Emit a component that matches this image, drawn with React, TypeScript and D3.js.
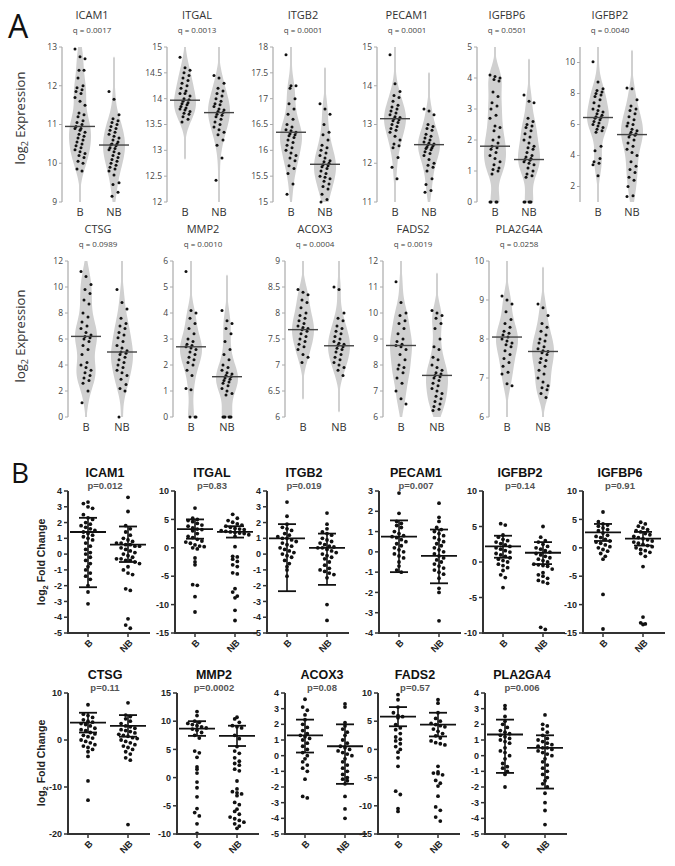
import React from 'react'
import * as d3 from 'd3'

// ---------- Panel A: log2 expression (violins) ----------
const aGenes = ['ICAM1', 'ITGAL', 'ITGB2', 'PECAM1', 'IGFBP6', 'IGFBP2', 'CTSG', 'MMP2', 'ACOX3', 'FADS2', 'PLA2G4A']
const aQ = ['q = 0.0017', 'q = 0.0013', 'q = 0.0001', 'q = 0.0001', 'q = 0.0501', 'q = 0.0040',
  'q = 0.0989', 'q = 0.0010', 'q = 0.0004', 'q = 0.0019', 'q = 0.0258']
const aDomains = [[9, 13], [12, 15], [15, 18], [11, 15], [0, 5], [1, 11], [0, 12], [0, 6], [6, 9], [6, 12], [6, 10]]
const aTicks = [
  [9, 10, 11, 12, 13], [12, 12.5, 13, 13.5, 14, 14.5, 15], [15, 15.5, 16, 16.5, 17, 17.5, 18],
  [11, 12, 13, 14, 15], [0, 1, 2, 3, 4, 5], [2, 4, 6, 8, 10],
  [0, 2, 4, 6, 8, 10, 12], [0, 1, 2, 3, 4, 5, 6], [6, 6.5, 7, 7.5, 8, 8.5, 9], [6, 7, 8, 9, 10, 11, 12], [6, 7, 8, 9, 10],
]
const aMedB = [10.95, 13.97, 16.35, 13.15, 1.8, 6.45, 6.2, 2.7, 7.68, 8.75, 8.05]
const aMedNB = [10.47, 13.73, 15.73, 12.48, 1.37, 5.35, 5.0, 1.55, 7.37, 7.6, 7.68]

const aValsB = [
  [12.95, 12.75, 12.7, 12.4, 12.4, 12.2, 12.0, 11.95, 11.9, 11.85, 11.8, 11.7, 11.6, 11.5, 11.3, 11.25, 11.2, 11.1, 11.05, 11.0, 10.95, 10.9, 10.9, 10.85, 10.8, 10.75, 10.7, 10.65, 10.6, 10.55, 10.5, 10.45, 10.4, 10.35, 10.3, 10.25, 10.2, 10.15, 10.05, 10.0, 9.85, 9.8],
  [14.8, 14.6, 14.55, 14.5, 14.45, 14.4, 14.35, 14.3, 14.25, 14.2, 14.15, 14.1, 14.1, 14.05, 14.0, 13.98, 13.95, 13.92, 13.9, 13.88, 13.85, 13.82, 13.8, 13.78, 13.75, 13.72, 13.7, 13.65, 13.6, 13.55],
  [17.85, 17.25, 17.25, 17.2, 17.0, 16.9, 16.8, 16.7, 16.6, 16.5, 16.45, 16.4, 16.38, 16.35, 16.32, 16.3, 16.28, 16.25, 16.2, 16.15, 16.1, 16.05, 16.0, 15.95, 15.9, 15.85, 15.8, 15.7, 15.65, 15.55, 15.35, 15.15],
  [14.8, 14.05, 13.85, 13.75, 13.7, 13.6, 13.5, 13.45, 13.4, 13.35, 13.3, 13.25, 13.2, 13.18, 13.15, 13.12, 13.1, 13.05, 13.0, 12.95, 12.9, 12.85, 12.8, 12.7, 12.6, 12.5, 12.45, 12.4, 12.15, 11.9, 11.6],
  [4.1, 4.05, 4.0, 3.95, 3.9, 3.55, 3.4, 3.2, 3.1, 3.0, 2.8, 2.7, 2.45, 2.4, 2.3, 2.1, 2.0, 1.9, 1.8, 1.75, 1.7, 1.6, 1.5, 1.4, 1.3, 1.2, 1.1, 1.05, 1.0, 0.9, 0, 0, 0, 0],
  [10.05, 8.75, 8.3, 8.2, 8.1, 8.0, 7.9, 7.8, 7.6, 7.4, 7.2, 7.0, 6.9, 6.8, 6.7, 6.6, 6.5, 6.45, 6.4, 6.3, 6.2, 6.1, 6.0, 5.9, 5.8, 5.7, 5.6, 5.5, 4.6, 4.3, 3.8, 3.6, 3.5, 3.4, 2.7],
  [11.2, 10.8, 10.2, 9.8, 9.5, 9.0, 8.7, 8.0, 7.7, 7.3, 7.0, 6.8, 6.5, 6.3, 6.2, 6.1, 6.0, 5.8, 5.5, 5.2, 4.8, 4.2, 4.0, 3.8, 3.6, 3.4, 3.2, 3.0, 2.8, 2.6, 2.0, 1.1],
  [5.6, 4.1, 4.0, 3.8, 3.6, 3.4, 3.2, 3.0, 2.9, 2.8, 2.75, 2.7, 2.65, 2.6, 2.5, 2.4, 2.3, 2.2, 2.1, 2.0, 1.8, 1.6, 1.1, 1.05, 0, 0, 0],
  [8.45, 8.4, 8.35, 8.25, 8.2, 8.1, 8.0, 7.95, 7.9, 7.85, 7.8, 7.75, 7.72, 7.7, 7.68, 7.65, 7.6, 7.55, 7.5, 7.45, 7.4, 7.35, 7.3, 7.2, 7.15, 7.05],
  [11.2, 10.4, 10.0, 9.9, 9.7, 9.6, 9.4, 9.2, 9.0, 8.9, 8.8, 8.75, 8.7, 8.6, 8.4, 8.2, 8.0, 7.9, 7.85, 7.7, 7.5, 7.3, 7.0, 6.7, 6.5],
  [9.1, 9.0, 8.9, 8.7, 8.5, 8.4, 8.3, 8.2, 8.15, 8.1, 8.05, 8.0, 7.95, 7.9, 7.85, 7.8, 7.7, 7.6, 7.5, 7.4, 7.3, 7.15, 7.1, 6.85, 6.8],
]
const aValsNB = [
  [11.85, 11.65, 11.25, 11.15, 11.1, 11.05, 11.0, 10.95, 10.9, 10.85, 10.8, 10.75, 10.7, 10.65, 10.6, 10.55, 10.5, 10.5, 10.48, 10.45, 10.4, 10.38, 10.35, 10.3, 10.25, 10.2, 10.15, 10.1, 10.05, 10.0, 9.95, 9.9, 9.85, 9.8, 9.7, 9.5, 9.45, 9.25, 9.15],
  [14.45, 14.4, 14.3, 14.2, 14.15, 14.1, 14.05, 14.0, 13.95, 13.9, 13.88, 13.85, 13.8, 13.78, 13.75, 13.73, 13.7, 13.68, 13.65, 13.6, 13.55, 13.5, 13.45, 13.4, 13.35, 13.3, 13.2, 13.1, 12.85, 12.42],
  [16.9, 16.8, 16.7, 16.5, 16.35, 16.3, 16.2, 16.1, 16.05, 16.0, 15.95, 15.9, 15.85, 15.8, 15.78, 15.75, 15.72, 15.7, 15.68, 15.65, 15.6, 15.55, 15.5, 15.48, 15.45, 15.4, 15.35, 15.3, 15.25, 15.15, 15.05, 15.0],
  [13.4, 13.35, 13.25, 13.0, 12.95, 12.9, 12.85, 12.75, 12.7, 12.65, 12.6, 12.55, 12.52, 12.5, 12.48, 12.45, 12.42, 12.4, 12.38, 12.35, 12.3, 12.25, 12.2, 12.1, 12.0, 11.95, 11.9, 11.8, 11.6, 11.45, 11.3, 11.25],
  [3.45, 3.25, 3.2, 2.7, 2.6, 2.5, 2.45, 2.4, 2.3, 2.2, 2.1, 2.0, 1.9, 1.8, 1.75, 1.7, 1.6, 1.5, 1.45, 1.4, 1.37, 1.35, 1.3, 1.25, 1.2, 1.1, 1.0, 0.9, 0.85, 0.8, 0, 0, 0, 0, 0],
  [8.35, 8.3, 7.6, 7.2, 7.0, 6.9, 6.7, 6.5, 6.3, 6.1, 6.0, 5.9, 5.7, 5.6, 5.5, 5.4, 5.35, 5.3, 5.2, 5.0, 4.8, 4.6, 4.4, 4.2, 4.0, 3.6, 3.3, 3.1, 2.9, 2.6, 2.4, 2.0, 1.4, 1.35],
  [9.8, 8.8, 8.3, 7.6, 7.2, 7.0, 6.8, 6.5, 6.3, 6.1, 5.8, 5.5, 5.3, 5.1, 5.0, 4.9, 4.8, 4.6, 4.4, 4.2, 4.0, 3.8, 3.6, 3.4, 3.2, 2.9, 2.5, 2.2, 2.0, 0],
  [4.1, 3.7, 3.6, 3.4, 3.2, 2.9, 2.6, 2.4, 2.2, 2.0, 1.9, 1.8, 1.7, 1.65, 1.6, 1.55, 1.5, 1.45, 1.4, 1.35, 1.3, 1.2, 1.1, 1.0, 0.9, 0.85, 0, 0, 0, 0, 0, 0],
  [8.5, 8.45, 8.0, 7.9, 7.85, 7.75, 7.7, 7.65, 7.6, 7.55, 7.5, 7.45, 7.42, 7.4, 7.38, 7.35, 7.32, 7.3, 7.25, 7.2, 7.15, 7.1, 7.05, 7.0, 6.95, 6.9, 6.8],
  [10.1, 10.0, 9.9, 9.8, 9.6, 9.4, 9.0, 8.7, 8.6, 8.3, 8.2, 8.0, 7.9, 7.8, 7.7, 7.65, 7.6, 7.55, 7.5, 7.4, 7.3, 7.2, 7.1, 7.0, 6.9, 6.8, 6.7, 6.6, 6.5, 6.4, 6.3, 6.25],
  [8.9, 8.8, 8.6, 8.4, 8.3, 8.2, 8.1, 8.0, 7.95, 7.9, 7.8, 7.75, 7.7, 7.68, 7.65, 7.6, 7.5, 7.45, 7.4, 7.3, 7.2, 7.1, 7.0, 6.9, 6.8, 6.75, 6.7, 6.6, 6.5],
]

// ---------- Panel B: log2 fold change (scatter, bar + whiskers) ----------
const bGenes = ['ICAM1', 'ITGAL', 'ITGB2', 'PECAM1', 'IGFBP2', 'IGFBP6', 'CTSG', 'MMP2', 'ACOX3', 'FADS2', 'PLA2GA4']
const bP = ['p=0.012', 'p=0.83', 'p=0.019', 'p=0.007', 'p=0.14', 'p=0.91', 'p=0.11', 'p=0.0002', 'p=0.08', 'p=0.57', 'p=0.006']
const bDomains = [[-5, 4], [-15, 10], [-5, 4], [-4, 3], [-10, 10], [-15, 10], [-20, 10], [-10, 15], [-5, 4], [-15, 10], [-5, 4]]
const bTicks = [
  [4, 3, 2, 1, 0, -1, -2, -3, -4, -5], [10, 5, 0, -5, -10, -15], [4, 3, 2, 1, 0, -1, -2, -3, -4, -5],
  [3, 2, 1, 0, -1, -2, -3, -4], [10, 5, 0, -5, -10], [10, 5, 0, -5, -10, -15],
  [10, 0, -10, -20], [15, 10, 5, 0, -5, -10], [4, 3, 2, 1, 0, -1, -2, -3, -4, -5], [10, 5, 0, -5, -10, -15], [4, 3, 2, 1, 0, -1, -2, -3, -4, -5],
]
const bCenterB = [1.4, 3.3, 1.0, 0.75, 2.2, 2.7, 3.7, 8.7, 1.3, 5.8, 1.35]
const bHiB = [2.3, 5.0, 1.9, 1.55, 3.7, 4.2, 5.8, 10.0, 2.3, 7.5, 2.3]
const bLoB = [-2.1, 1.6, -2.35, -1.0, 0.6, 1.2, 1.6, 7.4, 0.2, 4.1, -1.1]
const bCenterNB = [0.6, 2.8, 0.4, -0.2, 1.3, 1.6, 3.0, 7.4, 0.6, 4.4, 0.5]
const bHiNB = [1.75, 3.8, 1.3, 1.1, 2.8, 2.8, 5.3, 9.2, 2.0, 6.5, 1.3]
const bLoNB = [-0.5, 1.8, -1.95, -1.55, -0.3, 0.4, 0.7, 5.6, -1.8, 2.3, -2.1]

const bValsB = [
  [3.3, 3.2, 3.0, 2.9, 2.5, 2.3, 2.2, 2.0, 1.9, 1.8, 1.7, 1.6, 1.5, 1.4, 1.3, 1.2, 1.1, 1.0, 0.9, 0.7, 0.5, 0.3, 0.1, 0.0, -0.2, -0.4, -0.6, -0.8, -1.0, -1.2, -1.4, -1.6, -2.0, -2.4, -3.15],
  [7.0, 5.2, 5.0, 4.8, 4.6, 4.3, 4.0, 3.8, 3.5, 3.3, 3.2, 3.0, 2.5, 2.0, 1.8, 1.5, 1.2, 1.0, 0.8, 0.5, 0.3, 0.2, 0.0, -0.2, -1.8, -2.5, -3.0, -6.5, -6.6, -8.6, -11.3],
  [3.3, 2.4, 1.9, 1.7, 1.6, 1.5, 1.3, 1.2, 1.1, 1.0, 1.0, 0.9, 0.8, 0.7, 0.6, 0.5, 0.4, 0.3, 0.2, 0.1, 0.0, -0.1, -0.2, -0.4, -0.6, -0.8, -1.0, -1.4],
  [2.9, 1.9, 1.5, 1.4, 1.3, 1.2, 1.0, 0.9, 0.8, 0.75, 0.7, 0.6, 0.5, 0.4, 0.3, 0.2, 0.1, 0.0, -0.1, -0.2, -0.3, -0.5, -0.7, -0.9, -1.0],
  [5.4, 5.2, 3.8, 3.5, 3.2, 3.0, 2.8, 2.6, 2.4, 2.2, 2.0, 1.8, 1.6, 1.4, 1.2, 1.0, 0.8, 0.6, 0.4, 0.2, 0.0, -0.3, -0.5, -0.8, -1.2, -1.8, -2.2, -3.6],
  [6.3, 4.6, 4.2, 4.0, 3.8, 3.5, 3.2, 3.0, 2.6, 2.2, 2.0, 1.8, 1.5, 1.2, 1.0, 0.8, 0.5, 0.2, 0.0, -0.3, -0.6, -1.0, -1.5, -2.0, -8.2, -14.3],
  [7.5, 5.5, 5.2, 4.8, 4.3, 4.0, 3.8, 3.5, 3.3, 3.0, 2.5, 2.2, 2.0, 1.6, 1.3, 1.0, 0.7, 0.4, 0.0, -0.3, -0.6, -1.0, -1.3, -1.6, -2.0, -2.5, -3.5, -8.7, -12.8],
  [11.7, 11.0, 10.0, 9.8, 9.6, 9.4, 9.2, 9.0, 8.8, 8.6, 8.4, 8.0, 7.5, 7.0, 4.7, 4.4, 3.6, 1.9, 1.5, 0.8, -0.8, -1.8, -3.4, -5.5, -6.2, -6.8, -8.2, -9.9],
  [3.6, 3.1, 2.9, 2.6, 2.3, 2.0, 1.8, 1.6, 1.4, 1.3, 1.2, 1.1, 1.0, 0.8, 0.6, 0.4, 0.2, 0.0, -0.2, -0.4, -0.6, -0.8, -1.0, -1.5, -2.6, -2.7],
  [9.7, 8.8, 7.5, 6.5, 6.0, 5.8, 5.6, 4.4, 3.8, 3.5, 2.8, 2.2, 1.8, 1.5, 1.0, 0.5, 0.0, -0.5, -1.5, -3.0, -7.4, -8.0, -10.5, -11.0],
  [3.2, 3.0, 2.5, 2.2, 2.0, 1.8, 1.6, 1.5, 1.4, 1.3, 1.2, 1.1, 1.0, 0.9, 0.8, 0.5, 0.3, 0.2, 0.0, -0.2, -0.5, -0.7, -0.8, -1.0, -1.2, -2.0],
]
const bValsNB = [
  [3.6, 2.7, 1.8, 1.6, 1.4, 1.2, 1.0, 0.9, 0.8, 0.7, 0.7, 0.6, 0.6, 0.5, 0.5, 0.4, 0.3, 0.2, 0.1, 0.0, -0.1, -0.2, -0.3, -0.3, -0.4, -0.4, -0.5, -0.6, -0.8, -1.0, -1.2, -1.3, -2.2, -2.3, -4.1, -4.5, -4.7],
  [5.9, 5.2, 4.8, 4.5, 4.2, 4.0, 3.8, 3.6, 3.4, 3.3, 3.2, 3.0, 2.9, 2.8, 2.7, 2.6, 2.5, 2.3, 2.0, 0.2, -1.5, -1.6, -2.0, -2.4, -3.0, -3.3, -4.4, -4.6, -7.2, -7.8, -8.5, -8.8, -11.0, -12.8],
  [2.6, 1.9, 1.6, 1.4, 1.3, 1.2, 1.0, 0.9, 0.8, 0.7, 0.6, 0.5, 0.45, 0.4, 0.4, 0.3, 0.2, 0.1, 0.0, -0.1, -0.2, -0.3, -0.5, -0.7, -0.9, -1.0, -1.1, -1.2, -1.3, -1.5, -3.2, -4.2],
  [2.4, 1.7, 1.5, 1.2, 1.1, 1.0, 0.9, 0.8, 0.7, 0.6, 0.5, 0.4, 0.3, 0.2, 0.1, 0.0, -0.1, -0.2, -0.3, -0.4, -0.5, -0.6, -0.7, -0.8, -0.9, -1.0, -1.1, -1.3, -1.8, -2.0, -3.4],
  [5.0, 3.5, 3.0, 2.8, 2.5, 2.2, 2.0, 1.8, 1.6, 1.4, 1.2, 1.0, 0.8, 0.6, 0.4, 0.2, 0.0, -0.3, -0.4, -0.5, -0.6, -1.0, -1.5, -1.8, -2.0, -2.3, -2.6, -2.8, -3.0, -9.2, -9.5],
  [4.5, 4.2, 3.8, 3.5, 3.2, 3.0, 2.8, 2.5, 2.3, 2.0, 1.8, 1.6, 1.4, 1.2, 1.0, 0.8, 0.6, 0.4, 0.2, 0.0, -0.3, -0.5, -0.8, -1.0, -1.5, -3.3, -12.2, -13.2, -13.4, -13.5],
  [7.9, 5.3, 5.0, 4.5, 4.0, 3.5, 3.0, 2.8, 2.5, 2.2, 2.0, 1.8, 1.5, 1.2, 1.0, 0.8, 0.5, 0.3, 0.0, -0.3, -0.6, -1.0, -1.3, -1.6, -2.0, -2.5, -3.0, -3.8, -4.3, -18.0],
  [10.7, 10.4, 9.8, 9.2, 9.0, 8.8, 7.5, 6.9, 5.5, 4.7, 4.3, 3.5, 2.9, 2.5, 2.2, 1.5, 1.2, -0.6, -2.0, -2.5, -2.7, -2.9, -3.2, -4.4, -4.8, -5.6, -6.0, -6.5, -7.0, -7.3, -7.6, -7.9, -8.2, -8.6, -9.0],
  [3.3, 3.1, 2.1, 1.9, 1.7, 1.5, 1.3, 1.0, 0.8, 0.6, 0.5, 0.4, 0.3, 0.2, 0.1, 0.0, -0.2, -0.4, -0.6, -0.8, -1.0, -1.2, -1.4, -1.5, -1.6, -1.8, -2.6, -3.4, -4.0],
  [8.8, 8.2, 6.5, 5.5, 5.0, 4.6, 4.4, 4.2, 4.0, 3.6, 3.2, 2.8, 2.4, 2.0, 1.5, 1.2, 1.0, 0.8, -3.0, -4.0, -4.2, -4.3, -4.5, -5.5, -6.0, -6.5, -8.3, -10.2, -10.8, -12.0, -12.7],
  [2.6, 2.0, 1.9, 1.7, 1.5, 1.3, 1.1, 1.0, 0.9, 0.8, 0.7, 0.6, 0.5, 0.5, 0.4, 0.3, 0.2, 0.1, 0.0, -0.2, -0.4, -0.6, -0.8, -1.0, -1.2, -1.4, -1.6, -1.8, -2.0, -2.4, -3.0, -3.5, -4.4],
]

// layout
const aAxisX = [62, 167, 273, 377, 477, 580, 68, 173, 285, 383, 489]
const aTop = [47, 261]
const aBottom = [202, 417]
const bAxisX = [68, 175, 267, 379, 483, 583, 68, 177, 285, 378, 485]
const bTop = [491, 693]
const bBottom = [633, 834]

const sansA = '"Open Sans", "Noto Sans", sans-serif'
const sansB = '"Liberation Sans", Arial, sans-serif'

function Violin({ vals, dom, y, cx }) {
  const span = dom[1] - dom[0]
  const bw = span * 0.075
  const grid = d3.range(0, 161).map(k => dom[0] + (span * k) / 160)
  const dens = grid.map(g => d3.sum(vals, v => Math.exp(-0.5 * ((g - v) / bw) ** 2)))
  const mx = d3.max(dens)
  const w = dens.map(d => (d / mx > 8e-4 ? Math.max(1, (11 * d) / mx) : 0))
  const area = d3.area<number>()
    .y(k => y(grid[k]))
    .x0(k => cx - w[k])
    .x1(k => cx + w[k])
    .curve(d3.curveBasis)
  return <path d={area(d3.range(grid.length))} fill="#d0d0d0" />
}

function PanelA({ i }) {
  const row = i < 6 ? 0 : 1
  const ax = aAxisX[i]
  const dom = aDomains[i]
  const y = d3.scaleLinear().domain(dom).range([aBottom[row], aTop[row]])
  const x = d3.scalePoint().domain(['B', 'NB']).range([ax + 18, ax + (row ? 54 : 52)])
  const groups = [
    { key: 'B', vals: aValsB[i], med: aMedB[i] },
    { key: 'NB', vals: aValsNB[i], med: aMedNB[i] },
  ]
  return (
    <g fontFamily={sansA}>
      <text x={ax + 30} y={aTop[row] - 28} textAnchor="middle" fontSize={11} fill="#333">{aGenes[i]}</text>
      <text x={ax + 30} y={aTop[row] - 14} textAnchor="middle" fontSize={8} fill="#444">{aQ[i]}</text>
      {groups.map(g => (
        <g key={g.key}>
          <Violin vals={g.vals} dom={dom} y={y} cx={x(g.key)} />
          {g.vals.map((v, k) => (
            <circle key={k} cx={x(g.key) + (((k * 5) % 11) - 5) * 1.0} cy={y(v)} r={1.5} fill="#111" />
          ))}
          <line x1={x(g.key) - 15} x2={x(g.key) + 15} y1={y(g.med)} y2={y(g.med)} stroke="#444" strokeWidth={1.4} />
          <text x={x(g.key)} y={aBottom[row] + 14} textAnchor="middle" fontSize={11} fill="#333">{g.key}</text>
        </g>
      ))}
      <line x1={ax} x2={ax} y1={aTop[row]} y2={aBottom[row]} stroke="#aaa" strokeWidth={1.2} />
      {aTicks[i].map(t => (
        <g key={t}>
          <line x1={ax - 3} x2={ax} y1={y(t)} y2={y(t)} stroke="#aaa" strokeWidth={1} />
          <text x={ax - 5} y={y(t)} dy="0.35em" textAnchor="end" fontSize={8.5} fill="#444">{t}</text>
        </g>
      ))}
    </g>
  )
}

function swarm(vals, y, cx) {
  const sorted = [...vals].sort((a, b) => b - a)
  const rows = d3.group(sorted, v => Math.round(y(v) / 5.5))
  const pts = []
  rows.forEach(vs => {
    vs.forEach((v, k) => pts.push({ x: cx + (k - (vs.length - 1) / 2) * 4.6, y: y(v) }))
  })
  return pts
}

function PanelB({ i }) {
  const row = i < 6 ? 0 : 1
  const ax = bAxisX[i]
  const y = d3.scaleLinear().domain(bDomains[i]).range([bBottom[row], bTop[row]])
  const x = d3.scalePoint().domain(['B', 'NB']).range([ax + 20, ax + 60])
  const bot = bBottom[row]
  const groups = [
    { key: 'B', vals: bValsB[i], c: bCenterB[i], hi: bHiB[i], lo: bLoB[i] },
    { key: 'NB', vals: bValsNB[i], c: bCenterNB[i], hi: bHiNB[i], lo: bLoNB[i] },
  ]
  return (
    <g fontFamily={sansB} fontWeight="bold">
      <text x={ax + 37} y={bTop[row] - 14} textAnchor="middle" fontSize={12.5} fill="#111">{bGenes[i]}</text>
      <text x={ax + 37} y={bTop[row] - 2} textAnchor="middle" fontSize={9.5} fill="#555">{bP[i]}</text>
      {groups.map(g => {
        const cx = x(g.key)
        return (
          <g key={g.key}>
            {swarm(g.vals, y, cx).map((p, k) => <circle key={k} cx={p.x} cy={p.y} r={1.9} fill="#111" />)}
            <line x1={cx} x2={cx} y1={y(g.hi)} y2={y(g.lo)} stroke="#111" strokeWidth={1.6} />
            <line x1={cx - 18} x2={cx + 18} y1={y(g.c)} y2={y(g.c)} stroke="#111" strokeWidth={1.8} />
            <line x1={cx - 9} x2={cx + 9} y1={y(g.hi)} y2={y(g.hi)} stroke="#111" strokeWidth={1.8} />
            <line x1={cx - 9} x2={cx + 9} y1={y(g.lo)} y2={y(g.lo)} stroke="#111" strokeWidth={1.8} />
            <line x1={cx} x2={cx} y1={bot} y2={bot + 4} stroke="#333" strokeWidth={1.5} />
            <text transform={`translate(${cx + 3},${bot + 8}) rotate(-45)`} textAnchor="end" dy="0.35em" fontSize={9.5} fill="#222">{g.key}</text>
          </g>
        )
      })}
      <line x1={ax} x2={ax} y1={bTop[row]} y2={bot + 1} stroke="#333" strokeWidth={2} />
      <line x1={ax - 1} x2={ax + 82} y1={bot} y2={bot} stroke="#333" strokeWidth={2} />
      {bTicks[i].map(t => (
        <g key={t}>
          <line x1={ax - 4} x2={ax} y1={y(t)} y2={y(t)} stroke="#333" strokeWidth={1.5} />
          <text x={ax - 6} y={y(t)} dy="0.35em" textAnchor="end" fontSize={9} fill="#222">{t}</text>
        </g>
      ))}
    </g>
  )
}

export default function App() {
  return (
    <svg width={675} height={866} style={{ position: 'absolute', left: 0, top: 0, background: '#fff' }}>
      <text x={8} y={38} fontFamily={sansA} fontSize={32} fill="#111">A</text>
      <text x={11} y={483} fontFamily={sansA} fontSize={28} fill="#111">B</text>
      {[118, 336].map(cy => (
        <text key={cy} transform={`translate(25,${cy}) rotate(-90)`} textAnchor="middle" fontFamily={sansA} fontSize={13} fill="#333">
          log<tspan fontSize={9} dy={3}>2</tspan><tspan dy={-3}> Expression</tspan>
        </text>
      ))}
      {[562, 763].map(cy => (
        <text key={cy} transform={`translate(45,${cy}) rotate(-90)`} textAnchor="middle" fontFamily={sansB} fontWeight="bold" fontSize={10.5} fill="#222">
          log<tspan fontSize={7.5} dy={2.5}>2</tspan><tspan dy={-2.5}> Fold Change</tspan>
        </text>
      ))}
      {aGenes.map((_, i) => <PanelA key={'a' + i} i={i} />)}
      {bGenes.map((_, i) => <PanelB key={'b' + i} i={i} />)}
    </svg>
  )
}
